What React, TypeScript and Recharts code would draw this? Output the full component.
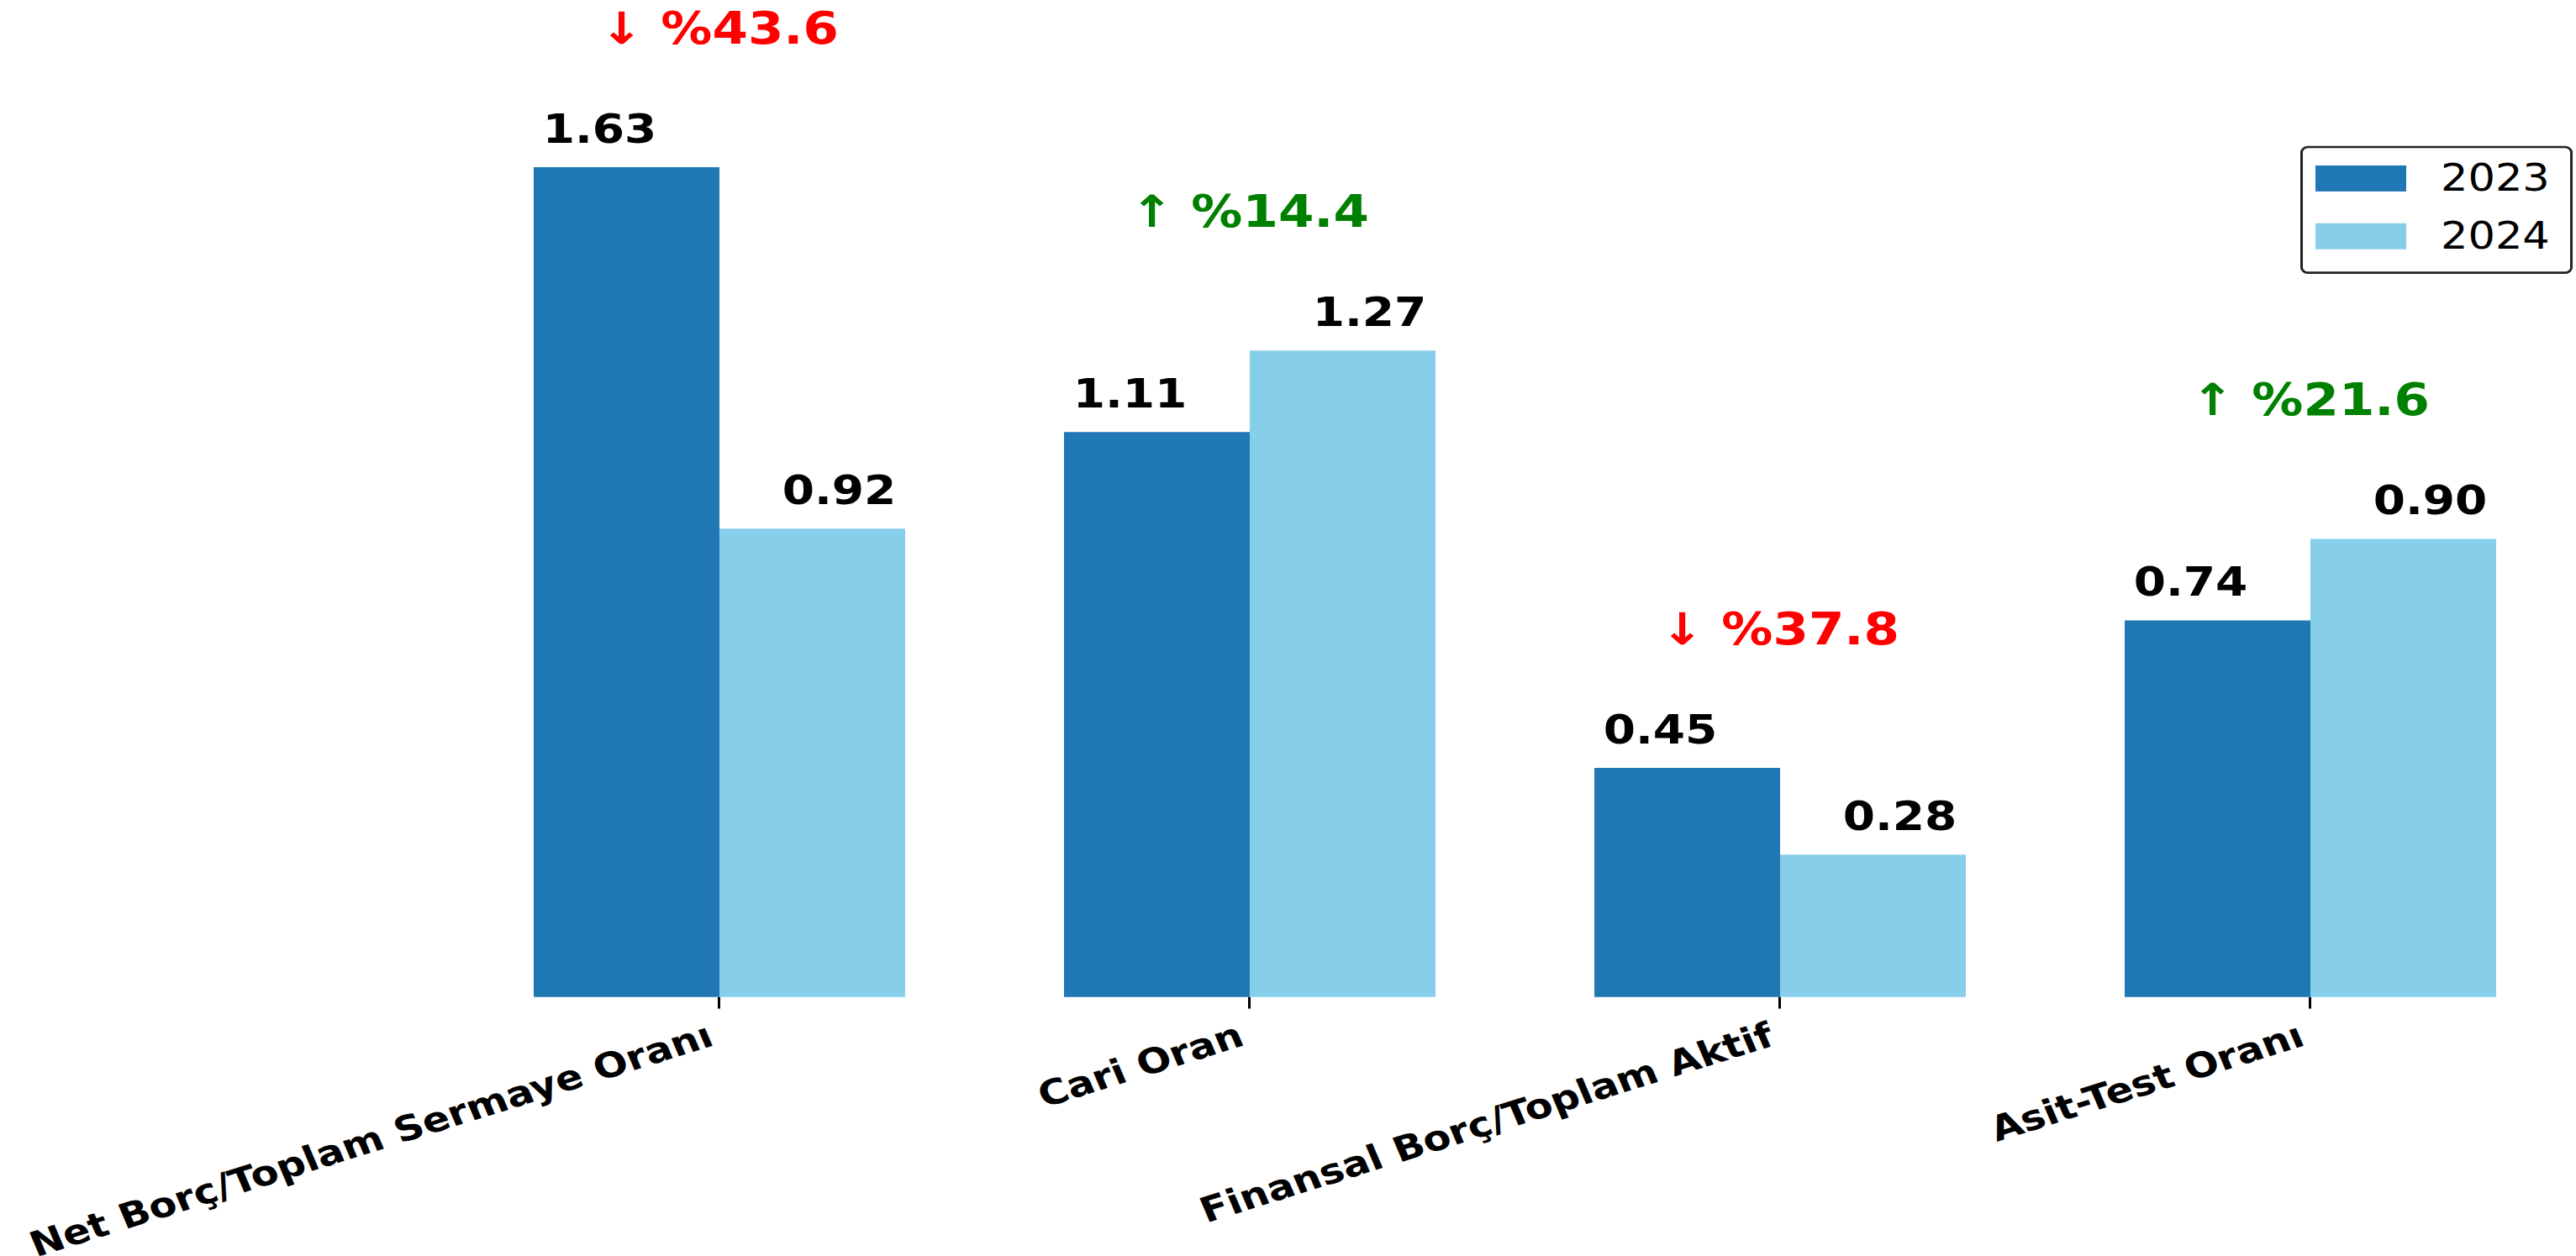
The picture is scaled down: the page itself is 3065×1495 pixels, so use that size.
import React from "react";
import { BarChart, Bar, XAxis, YAxis, Legend } from "recharts";

const categories = [
  "Net Borç/Toplam Sermaye Oranı",
  "Cari Oran",
  "Finansal Borç/Toplam Aktif",
  "Asit-Test Oranı",
];
const values2023 = [1.63, 1.11, 0.45, 0.74];
const values2024 = [0.92, 1.27, 0.28, 0.9];
const changePct = [-43.6, 14.4, -37.8, 21.6];
const seriesNames = ["2023", "2024"];

const COLOR_2023 = "#1f77b4";
const COLOR_2024 = "#87ceeb";
const FONT = "'DejaVu Sans', sans-serif";

const data = categories.map((name, i) => ({
  name,
  v2023: values2023[i],
  v2024: values2024[i],
}));

const W = 3065;
const SQUASH = 0.86;
const H = Math.round(1495 / SQUASH);

const num = (v: any) => (typeof v === "number" ? v : parseFloat(v));

const ValueLabel = (side: number) => (props: any) => {
  const x = num(props.x ?? props.viewBox?.x);
  const y = num(props.y ?? props.viewBox?.y);
  const w = num(props.width ?? props.viewBox?.width);
  const v = num(props.value);
  return (
    <text
      x={x + w / 2 + side * 32}
      y={y - 34}
      textAnchor="middle"
      fontFamily={FONT}
      fontWeight="bold"
      fontSize={55}
      fill="#000"
    >
      {v.toFixed(2)}
    </text>
  );
};

const Label2024 = (props: any) => {
  const x = num(props.x ?? props.viewBox?.x);
  const y = num(props.y ?? props.viewBox?.y);
  const w = num(props.width ?? props.viewBox?.width);
  const h = num(props.height ?? props.viewBox?.height);
  const v = num(props.value);
  const i = props.index;
  const bottom = y + h;
  const ppu = h / v;
  const maxV = Math.max(values2023[i], values2024[i]);
  const pct = changePct[i];
  const txt = `${pct < 0 ? "↓" : "↑"} %${Math.abs(pct).toFixed(1)}`;
  return (
    <g>
      <text
        x={x + w / 2 + 32}
        y={y - 34}
        textAnchor="middle"
        fontFamily={FONT}
        fontWeight="bold"
        fontSize={55}
        fill="#000"
      >
        {v.toFixed(2)}
      </text>
      <text
        x={x}
        y={bottom - maxV * ppu - 171}
        textAnchor="middle"
        fontFamily={FONT}
        fontWeight="bold"
        fontSize={61}
        fill={pct < 0 ? "#ff0000" : "#008000"}
      >
        {txt}
      </text>
    </g>
  );
};

const Tick = (props: any) => {
  const { x, y, payload } = props;
  const ax = x - 4;
  const ay = y + 34;
  return (
    <text
      x={ax}
      y={ay}
      textAnchor="end"
      transform={`rotate(-20, ${ax}, ${ay})`}
      fontFamily={FONT}
      fontWeight="bold"
      fontSize={48}
      fill="#000"
    >
      {payload.value}
    </text>
  );
};

const LegendBox = () => (
  <div
    style={{
      position: "relative",
      width: 324,
      height: 177,
      boxSizing: "border-box",
      border: "3px solid #222",
      borderRadius: 9,
      background: "#fff",
      fontFamily: FONT,
    }}
  >
    {seriesNames.map((n, i) => (
      <React.Fragment key={n}>
        <div
          style={{
            position: "absolute",
            left: 15,
            top: i === 0 ? 24 : 104,
            width: 108,
            height: 36,
            background: i === 0 ? COLOR_2023 : COLOR_2024,
          }}
        />
        <div
          style={{
            position: "absolute",
            left: 164,
            top: i === 0 ? 12 : 92,
            height: 60,
            lineHeight: "60px",
            fontSize: 51,
            color: "#000",
          }}
        >
          {n}
        </div>
      </React.Fragment>
    ))}
  </div>
);

export default function App() {
  return (
    <div
      style={{
        position: "absolute",
        left: 0,
        top: 0,
        width: W,
        height: H,
        background: "#fff",
        transform: `scale(1, ${SQUASH})`,
        transformOrigin: "0 0",
      }}
    >
      <BarChart
        width={W}
        height={H}
        data={data}
        margin={{ top: 6, right: 1, left: 540, bottom: 58 }}
        barGap={0}
        barSize={221}
      >
        <XAxis
          dataKey="name"
          axisLine={false}
          tickLine={{ stroke: "#000", strokeWidth: 3 }}
          tickSize={16}
          tickMargin={16}
          height={300}
          interval={0}
          tick={<Tick />}
        />
        <YAxis hide domain={[0, 1.95]} />
        <Legend
          layout="horizontal"
          verticalAlign="middle"
          align="center"
          content={<LegendBox />}
          wrapperStyle={{ position: "absolute", top: 202, left: 2737, width: 324, height: 177 }}
        />
        <Bar
          dataKey="v2023"
          name={seriesNames[0]}
          fill={COLOR_2023}
          isAnimationActive={false}
          label={ValueLabel(-1)}
        />
        <Bar
          dataKey="v2024"
          name={seriesNames[1]}
          fill={COLOR_2024}
          isAnimationActive={false}
          label={Label2024}
        />
      </BarChart>
    </div>
  );
}
